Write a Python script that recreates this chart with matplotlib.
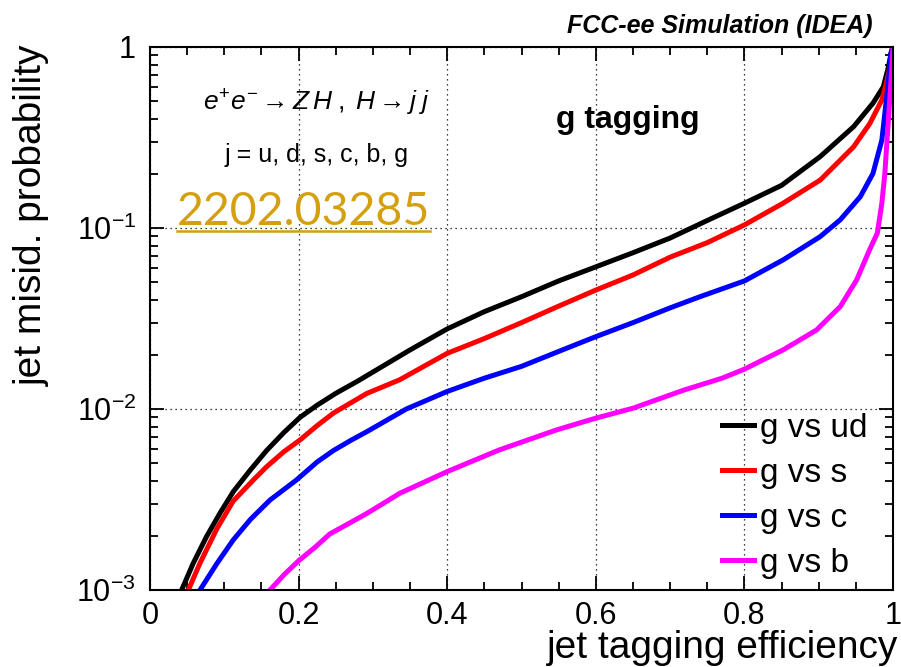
import numpy as np
import matplotlib
matplotlib.use('Agg')
import matplotlib.pyplot as plt
from matplotlib.ticker import MultipleLocator, FuncFormatter, LogLocator, NullFormatter

plt.rcParams['font.family'] = ['Liberation Sans', 'DejaVu Sans']
plt.rcParams['mathtext.fontset'] = 'custom'
plt.rcParams['mathtext.rm'] = 'Liberation Sans'
plt.rcParams['mathtext.it'] = 'Liberation Sans:italic'

# g vs ud
eff_ud = [0.0426, 0.058, 0.076, 0.094, 0.112, 0.135, 0.157, 0.18, 0.202, 0.225, 0.25,
          0.28, 0.3, 0.35, 0.4, 0.45, 0.5, 0.55, 0.6, 0.65, 0.7, 0.75, 0.8, 0.85,
          0.902, 0.947, 0.973, 0.987, 0.994, 0.998, 1.0]
mis_ud = [0.001, 0.0014, 0.00197, 0.00265, 0.00349, 0.0046, 0.0059, 0.0074, 0.0090,
          0.0105, 0.0122, 0.0143, 0.016, 0.0212, 0.0277, 0.0345, 0.0417, 0.051, 0.061,
          0.073, 0.088, 0.110, 0.137, 0.172, 0.248, 0.363, 0.489, 0.603, 0.78, 0.95, 1.0]

# g vs s
eff_s = [0.0516, 0.067, 0.09, 0.112, 0.139, 0.157, 0.18, 0.202, 0.225, 0.247, 0.27,
         0.292, 0.336, 0.4, 0.45, 0.5, 0.55, 0.6, 0.65, 0.7, 0.75, 0.8, 0.852, 0.902,
         0.947, 0.969, 0.985, 0.991, 0.996, 1.0]
mis_s = [0.001, 0.0014, 0.00218, 0.0031, 0.00405, 0.0048, 0.0058, 0.00675, 0.0081,
         0.0095, 0.0108, 0.0122, 0.0145, 0.0203, 0.0245, 0.030, 0.037, 0.0454, 0.055,
         0.069, 0.083, 0.104, 0.137, 0.184, 0.281, 0.379, 0.51, 0.63, 0.78, 1.0]

# g vs c
eff_c = [0.0673, 0.09, 0.112, 0.135, 0.1615, 0.197, 0.225, 0.247, 0.27, 0.292, 0.345,
         0.4, 0.45, 0.5, 0.55, 0.6, 0.65, 0.7, 0.74, 0.8, 0.852, 0.902, 0.929, 0.956,
         0.973, 0.985, 0.99, 0.994, 0.997, 1.0]
mis_c = [0.001, 0.0014, 0.00189, 0.00245, 0.00314, 0.00405, 0.0051, 0.0059, 0.0067,
         0.0075, 0.0100, 0.0125, 0.0148, 0.0172, 0.0208, 0.0251, 0.0300, 0.0362, 0.0417,
         0.051, 0.0666, 0.0896, 0.111, 0.149, 0.2, 0.306, 0.468, 0.657, 0.92, 1.0]

# g vs b
eff_b = [0.1615, 0.18, 0.2, 0.222, 0.242, 0.265, 0.292, 0.336, 0.4, 0.47, 0.547,
         0.6, 0.65, 0.718, 0.77, 0.8, 0.852, 0.897, 0.929, 0.951, 0.968, 0.979,
         0.985, 0.989, 0.992, 0.995, 0.998, 1.0]
mis_b = [0.001, 0.00121, 0.00145, 0.00172, 0.00204, 0.0023, 0.00265, 0.00342, 0.00451,
         0.00594, 0.00766, 0.0089, 0.0101, 0.0127, 0.0148, 0.0166, 0.0212, 0.0273,
         0.0368, 0.0516, 0.075, 0.094, 0.137, 0.2, 0.306, 0.468, 0.718, 1.0]

series = [
    ('g vs ud', eff_ud, mis_ud, 'black'),
    ('g vs s', eff_s, mis_s, '#ff0000'),
    ('g vs c', eff_c, mis_c, '#0000ff'),
    ('g vs b', eff_b, mis_b, '#ff00ff'),
]

W, H = 901, 667
fig = plt.figure(figsize=(W / 100, H / 100), dpi=100)
ax = fig.add_axes([150 / W, 1 - 590 / H, 743 / W, 543 / H])

for name, x, y, col in series:
    ax.plot(x, y, color=col, lw=3.6, label=name, solid_joinstyle='round')

ax.set_yscale('log')
ax.set_xlim(0, 1)
ax.set_ylim(1e-3, 1)

ax.xaxis.set_major_locator(MultipleLocator(0.2))
ax.xaxis.set_minor_locator(MultipleLocator(0.05))
ax.xaxis.set_major_formatter(FuncFormatter(lambda v, p: '%g' % v))
ax.yaxis.set_major_locator(LogLocator(base=10, numticks=10))
ax.yaxis.set_minor_locator(LogLocator(base=10, subs=np.arange(2, 10), numticks=10))
ax.yaxis.set_minor_formatter(NullFormatter())
ax.yaxis.set_major_formatter(FuncFormatter(
    lambda v, p: '1' if abs(v - 1) < 1e-9 else r'$10^{%d}$' % round(np.log10(v))))

ax.tick_params(which='both', direction='in', top=True, right=True, width=1.3)
ax.tick_params(which='major', length=10, labelsize=22)
ax.tick_params(which='minor', length=5.5)
ax.tick_params(axis='x', which='major', pad=8)
ax.tick_params(axis='y', which='major', pad=10)
for sp in ax.spines.values():
    sp.set_linewidth(1.5)

ax.grid(True, which='major', color='black', linestyle=(0, (1, 3)), linewidth=0.9)


def fx(px):
    return px / W


def fy(py):
    return 1 - py / H


leg = ax.legend(loc='lower left', bbox_to_anchor=(fx(722), fy(579)),
                bbox_transform=fig.transFigure, frameon=False,
                fontsize=24, handlelength=0.95, handletextpad=0.2,
                labelspacing=0.42, borderpad=0, borderaxespad=0)

fig.text(fx(898), fy(658), 'jet tagging efficiency', fontsize=28,
         ha='right', va='baseline')
fig.text(fx(32), fy(45), 'jet misid. probability', fontsize=28,
         rotation=90, ha='center', va='top')
fig.text(fx(873), fy(33), 'FCC-ee Simulation (IDEA)', fontsize=18,
         fontweight='bold', fontstyle='italic', ha='right', va='baseline')
fig.text(fx(628), fy(128), 'g tagging', fontsize=23, fontweight='bold',
         ha='center', va='baseline')
fig.text(fx(317), fy(111), r'$e^{+}e^{-} \rightarrow Z\,H\;,\;H \rightarrow j\;j$',
         fontsize=19, ha='center', va='baseline')
fig.text(fx(317), fy(162), 'j = u, d, s, c, b, g', fontsize=18,
         ha='center', va='baseline')
arxiv = fig.text(fx(177), fy(225), '2202.03285', fontsize=33.5, color='#d4a00f',
                 family=['Lato', 'Liberation Sans'],
                 ha='left', va='baseline')

# underline under the arXiv number
fig.canvas.draw()
bb = arxiv.get_window_extent()
fig.add_artist(plt.Line2D([bb.x0 / W, bb.x1 / W], [fy(231), fy(231)],
                          color='#d4a00f', lw=1.8, transform=fig.transFigure))

fig.savefig('out.png', dpi=100)
